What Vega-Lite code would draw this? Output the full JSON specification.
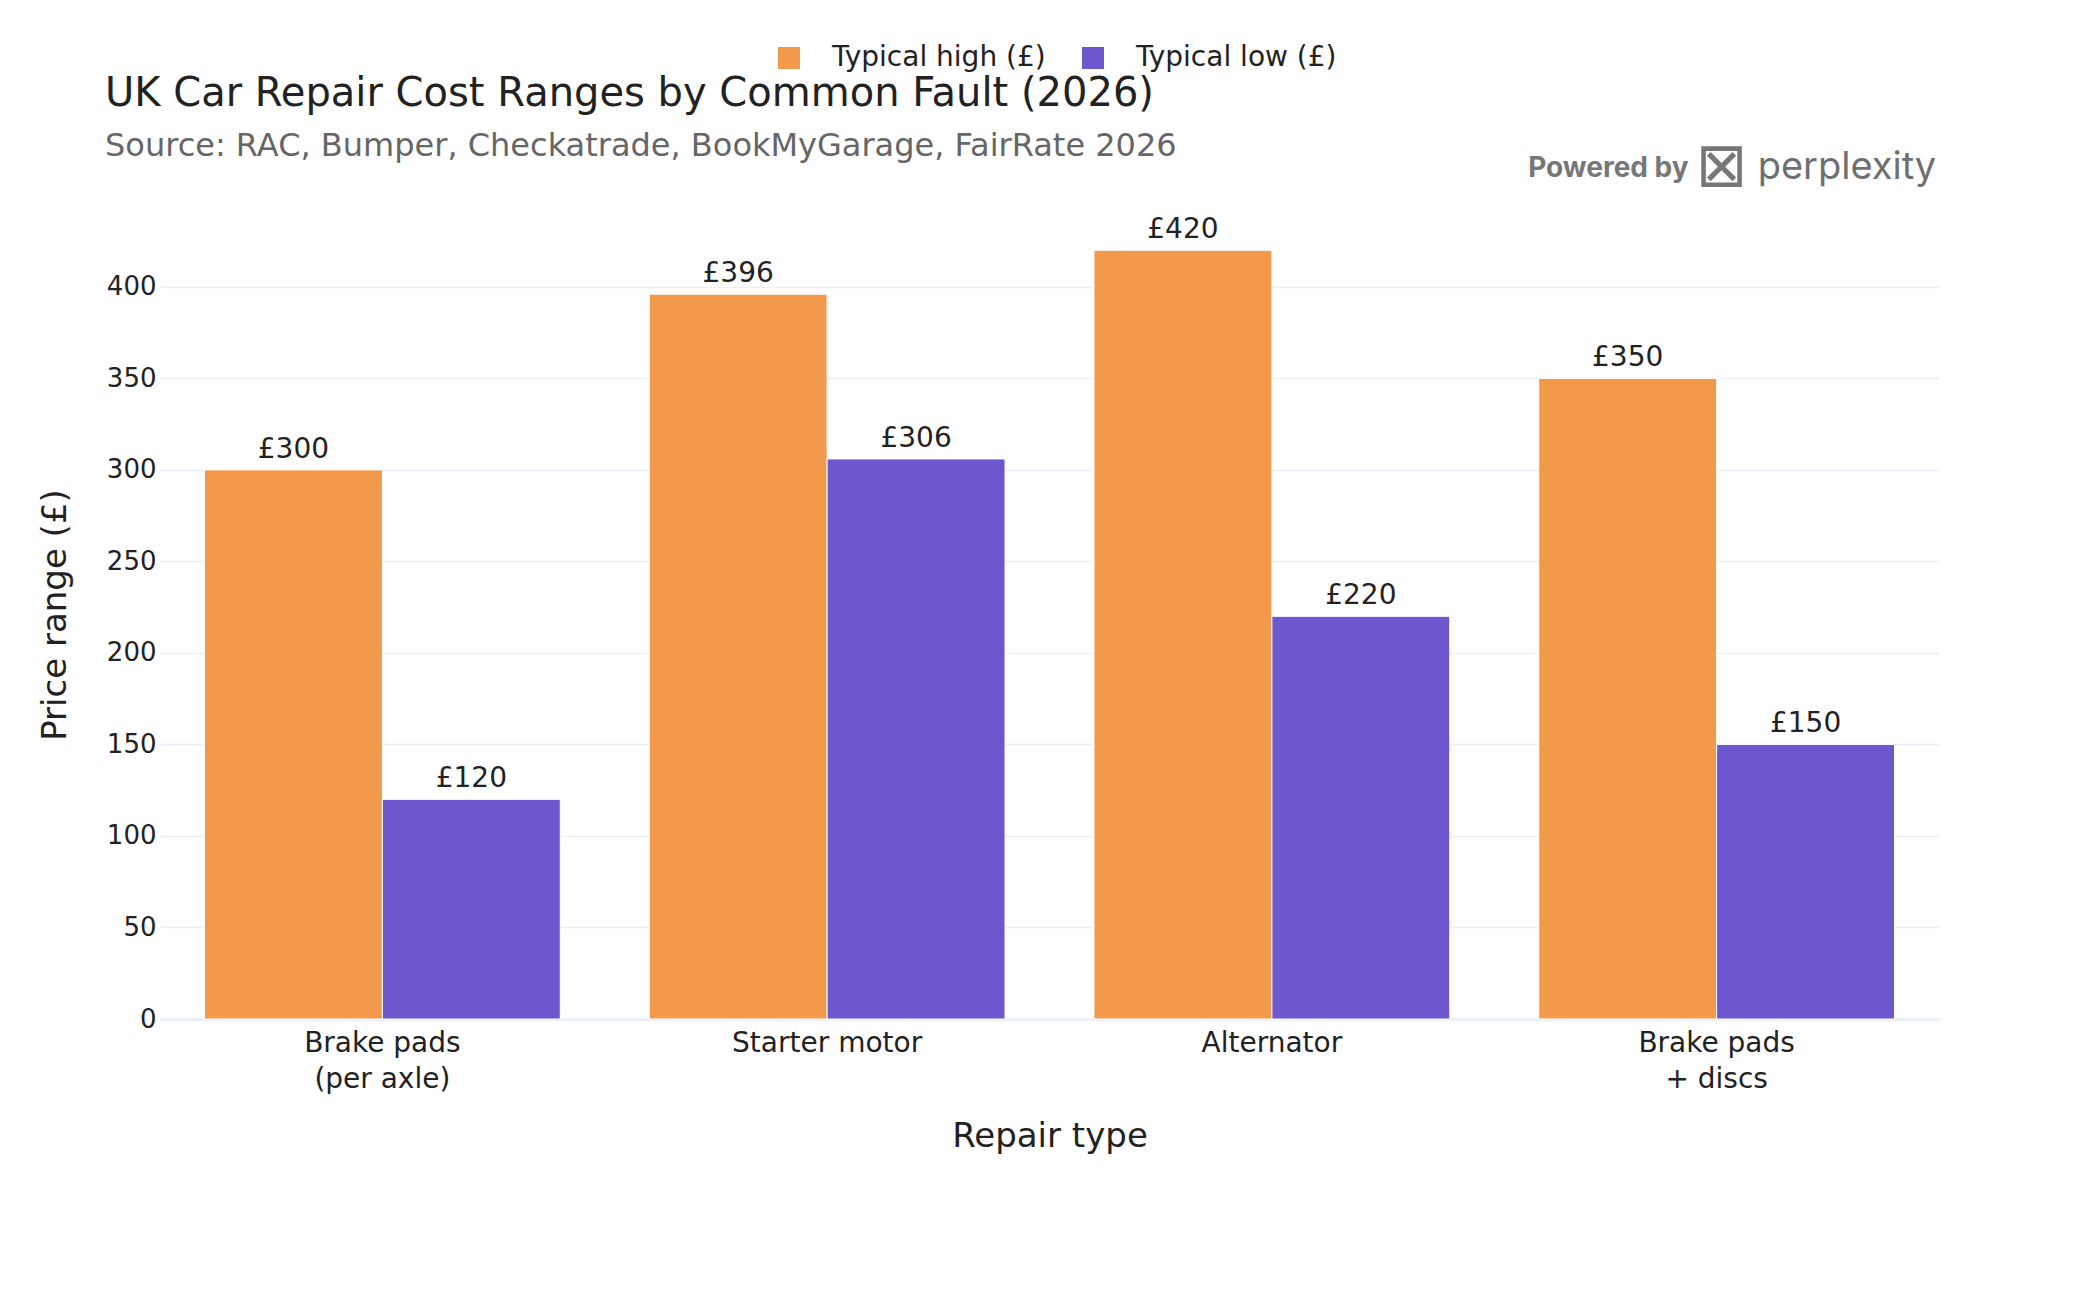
{
  "$schema": "https://vega.github.io/schema/vega-lite/v6.json",
  "width": 1779,
  "height": 809,
  "autosize": "none",
  "padding": {"left": 160, "top": 210, "right": 161, "bottom": 281},
  "background": "white",
  "config": {
    "font": "DejaVu Sans",
    "view": {"stroke": null},
    "locale": {"number": {"decimal": ".", "thousands": ",", "grouping": [3], "currency": ["£", ""]}}
  },
  "title": {
    "text": "UK Car Repair Cost Ranges by Common Fault (2026)",
    "subtitle": "Source: RAC, Bumper, Checkatrade, BookMyGarage, FairRate 2026",
    "anchor": "start",
    "frame": "group",
    "dx": -55,
    "dy": 166,
    "offset": 48,
    "fontSize": 40,
    "fontWeight": "normal",
    "color": "#222222",
    "subtitleFontSize": 32,
    "subtitleColor": "#666666",
    "subtitlePadding": 17
  },
  "data": {
    "values": [
      {"repair": "Brake pads (per axle)", "series": "Typical high (£)", "price": 300},
      {"repair": "Brake pads (per axle)", "series": "Typical low (£)", "price": 120},
      {"repair": "Starter motor", "series": "Typical high (£)", "price": 396},
      {"repair": "Starter motor", "series": "Typical low (£)", "price": 306},
      {"repair": "Alternator", "series": "Typical high (£)", "price": 420},
      {"repair": "Alternator", "series": "Typical low (£)", "price": 220},
      {"repair": "Brake pads + discs", "series": "Typical high (£)", "price": 350},
      {"repair": "Brake pads + discs", "series": "Typical low (£)", "price": 150}
    ]
  },
  "layer": [
    {
      "mark": {"type": "bar", "stroke": "white", "strokeWidth": 1},
      "encoding": {
        "x": {
          "field": "repair",
          "type": "nominal",
          "sort": ["Brake pads (per axle)", "Starter motor", "Alternator", "Brake pads + discs"],
          "scale": {"paddingInner": 0.2, "paddingOuter": 0.1},
          "axis": {
            "title": "Repair type",
            "titleFontSize": 34,
            "titleFontWeight": "normal",
            "titleColor": "#222222",
            "titlePadding": 26,
            "labelAngle": 0,
            "labelFontSize": 28,
            "labelColor": "#222222",
            "labelPadding": 10,
            "labelLineHeight": 36,
            "labelLimit": 400,
            "labelExpr": "datum.value == 'Brake pads (per axle)' ? ['Brake pads', '(per axle)'] : datum.value == 'Brake pads + discs' ? ['Brake pads', '+ discs'] : datum.value",
            "ticks": false,
            "domainColor": "#EBF0F8",
            "domainWidth": 3
          }
        },
        "y": {
          "field": "price",
          "type": "quantitative",
          "scale": {"domain": [0, 442], "nice": false},
          "axis": {
            "title": "Price range (£)",
            "titleFontSize": 34,
            "titleFontWeight": "normal",
            "titleColor": "#222222",
            "titlePadding": 34,
            "values": [0, 50, 100, 150, 200, 250, 300, 350, 400],
            "labelFontSize": 26,
            "labelColor": "#222222",
            "labelPadding": 4,
            "ticks": false,
            "domain": false,
            "gridColor": "#EBF0F8",
            "gridWidth": 1.3
          }
        },
        "xOffset": {"field": "series", "type": "nominal", "sort": ["Typical high (£)", "Typical low (£)"]},
        "color": {
          "field": "series",
          "type": "nominal",
          "sort": ["Typical high (£)", "Typical low (£)"],
          "scale": {"domain": ["Typical high (£)", "Typical low (£)"], "range": ["#F2994B", "#6E57CE"]},
          "legend": {
            "title": null,
            "orient": "none",
            "direction": "horizontal",
            "legendX": 615,
            "legendY": -166,
            "symbolType": "square",
            "symbolSize": 484,
            "symbolStrokeWidth": 0,
            "labelFontSize": 28,
            "labelColor": "#222222",
            "labelOffset": 29,
            "labelLimit": 500,
            "columnPadding": 33
          }
        }
      }
    },
    {
      "mark": {"type": "text", "baseline": "bottom", "dy": -6, "fontSize": 28, "color": "#222222"},
      "encoding": {
        "x": {"field": "repair", "type": "nominal", "sort": ["Brake pads (per axle)", "Starter motor", "Alternator", "Brake pads + discs"]},
        "xOffset": {"field": "series", "type": "nominal", "sort": ["Typical high (£)", "Typical low (£)"]},
        "y": {"field": "price", "type": "quantitative"},
        "text": {"field": "price", "type": "quantitative", "format": "$.0f"}
      }
    },
    {
      "data": {"values": [{"brand": "Powered by"}]},
      "mark": {"type": "text", "align": "right", "baseline": "alphabetic", "dx": -28, "fontSize": 28, "fontWeight": "bold", "font": "Inter", "color": "#777777"},
      "encoding": {
        "x": {"datum": "Brake pads + discs", "type": "nominal"},
        "y": {"datum": 460, "type": "quantitative"},
        "text": {"field": "brand"}
      }
    },
    {
      "data": {"values": [{"brand": "⊠"}]},
      "mark": {"type": "text", "align": "center", "baseline": "alphabetic", "dx": 5, "fontSize": 62, "color": "#777777"},
      "encoding": {
        "x": {"datum": "Brake pads + discs", "type": "nominal"},
        "y": {"datum": 455, "type": "quantitative"},
        "text": {"field": "brand"}
      }
    },
    {
      "data": {"values": [{"brand": "perplexity"}]},
      "mark": {"type": "text", "align": "left", "baseline": "alphabetic", "dx": 41, "fontSize": 38, "font": "Inter", "color": "#6f6f6f"},
      "encoding": {
        "x": {"datum": "Brake pads + discs", "type": "nominal"},
        "y": {"datum": 459, "type": "quantitative"},
        "text": {"field": "brand"}
      }
    }
  ]
}
